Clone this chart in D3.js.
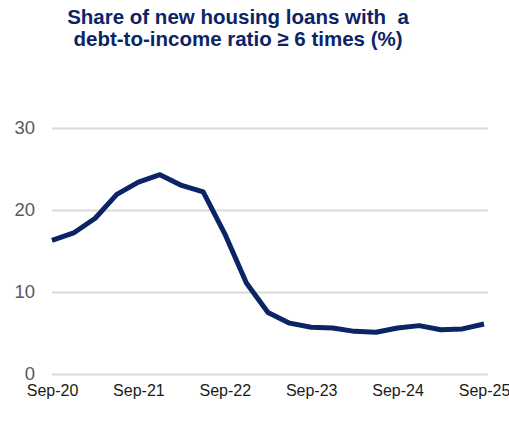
<!DOCTYPE html>
<html>
<head>
<meta charset="utf-8">
<script src="https://cdn.jsdelivr.net/npm/d3@7"></script>
<style>
  body { margin: 0; background: #fff; }
  svg { display: block; font-family: "Liberation Sans", Arial, sans-serif; }
</style>
</head>
<body>
<svg id="chart"></svg>
<script>
const width = 509, height = 422;

// quarterly, Sep-20 .. Sep-25
const quarters = [
  'Sep-20', 'Dec-20', 'Mar-21', 'Jun-21', 'Sep-21', 'Dec-21', 'Mar-22',
  'Jun-22', 'Sep-22', 'Dec-22', 'Mar-23', 'Jun-23', 'Sep-23', 'Dec-23',
  'Mar-24', 'Jun-24', 'Sep-24', 'Dec-24', 'Mar-25', 'Jun-25', 'Sep-25'
];
const shareDti6 = [
  16.3, 17.2, 19.0, 21.9, 23.4, 24.3, 23.0, 22.2, 17.1, 11.1, 7.5,
  6.2, 5.7, 5.6, 5.2, 5.1, 5.6, 5.9, 5.4, 5.5, 6.1
];
const xTickLabels = ['Sep-20', 'Sep-21', 'Sep-22', 'Sep-23', 'Sep-24', 'Sep-25'];
const yTicks = [0, 10, 20, 30];
const titleLines = ['Share of new housing loans with  a', 'debt-to-income ratio \u2265 6 times (%)'];

const margin = { top: 128, right: 23, bottom: 48, left: 52 };

const svg = d3.select('#chart')
  .attr('width', width)
  .attr('height', height);

const xScale = d3.scalePoint()
  .domain(quarters)
  .range([margin.left, 484]);

const yScale = d3.scaleLinear()
  .domain([0, 30])
  .range([height - margin.bottom, margin.top]);

// title
svg.append('text')
  .attr('x', 238)
  .attr('y', 24)
  .attr('text-anchor', 'middle')
  .attr('fill', '#0b2466')
  .attr('font-weight', 'bold')
  .attr('font-size', 20.5)
  .selectAll('tspan')
  .data(titleLines)
  .join('tspan')
  .attr('x', 238)
  .attr('dy', (d, i) => i === 0 ? 0 : 22)
  .attr('xml:space', 'preserve')
  .style('white-space', 'pre')
  .text(d => d);

// y axis with gridlines
const yAxis = d3.axisLeft(yScale)
  .tickValues(yTicks)
  .tickSize(-(width - margin.right - margin.left + 1.7))
  .tickPadding(17);
const yG = svg.append('g')
  .attr('transform', `translate(${margin.left}, 0)`)
  .call(yAxis);
yG.select('.domain').remove();
yG.selectAll('.tick line')
  .attr('stroke', '#d9d9d9')
  .attr('stroke-width', 2);
yG.selectAll('.tick text')
  .attr('fill', '#595959')
  .attr('font-size', 18.5)
  .attr('font-family', '"Liberation Sans", Arial, sans-serif');

// x axis, labels only
const xAxis = d3.axisBottom(xScale)
  .tickValues(xTickLabels)
  .tickSize(0)
  .tickPadding(11);
const xG = svg.append('g')
  .attr('transform', `translate(0, ${height - margin.bottom})`)
  .call(xAxis);
xG.select('.domain').remove();
xG.selectAll('.tick text')
  .attr('fill', '#1a1a1a')
  .attr('font-size', 16)
  .attr('font-family', '"Liberation Sans", Arial, sans-serif');

// the line
const line = d3.line()
  .x((d, i) => xScale(quarters[i]))
  .y(d => yScale(d));

svg.append('path')
  .datum(shareDti6)
  .attr('fill', 'none')
  .attr('stroke', '#0b2466')
  .attr('stroke-width', 5)
  .attr('stroke-linejoin', 'round')
  .attr('stroke-linecap', 'butt')
  .attr('d', line);
</script>
</body>
</html>
